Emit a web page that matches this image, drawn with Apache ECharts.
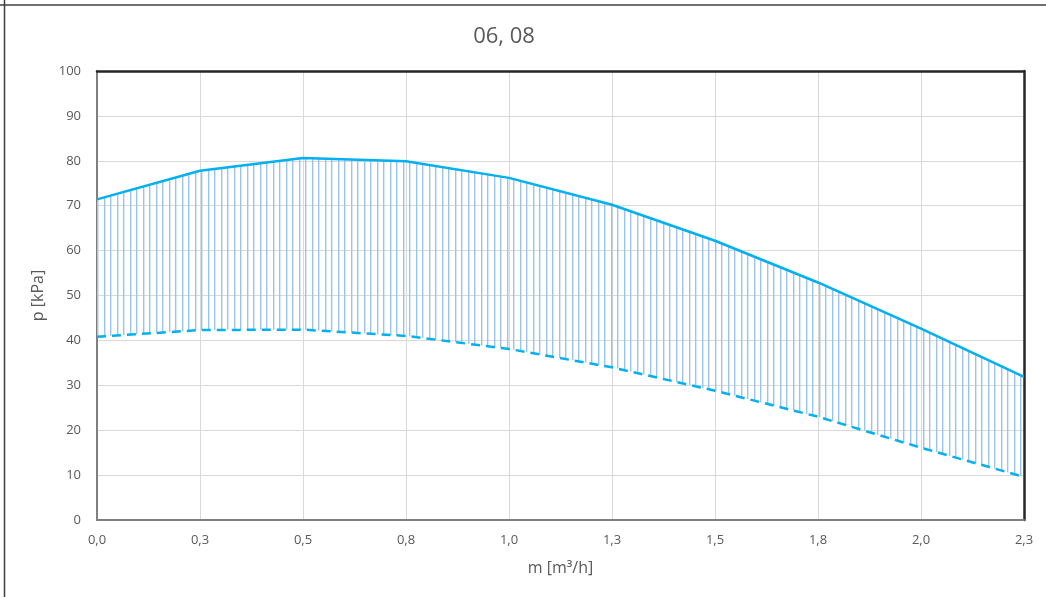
<!DOCTYPE html>
<html>
<head>
<meta charset="utf-8">
<script src="https://cdn.jsdelivr.net/npm/echarts@6/dist/echarts.min.js"></script>
<style>
html,body{margin:0;padding:0;background:#fff;}
#c{width:1046px;height:597px;}
</style>
</head>
<body>
<div id="c"></div>
<script>
var titleText = '06, 08';
var categories = ['0,0','0,3','0,5','0,8','1,0','1,3','1,5','1,8','2,0','2,3'];
var upperValues = [71.4, 77.8, 80.6, 79.9, 76.2, 70.2, 62.2, 52.9, 42.6, 31.9];
var lowerValues = [40.8, 42.3, 42.4, 41.0, 38.1, 34.0, 28.8, 23.0, 16.1, 9.6];
var yTicks = {min: 0, max: 100, interval: 10};
var xName = 'm [m\u00B3/h]';
var yName = 'p [kPa]';

var diffValues = upperValues.map(function (u, i) { return +(u - lowerValues[i]).toFixed(3); });

var pc = document.createElement('canvas');
pc.width = 13; pc.height = 8;
var pctx = pc.getContext('2d');
pctx.fillStyle = '#9DC3E6';
pctx.fillRect(0, 0, 1.4, 8);
pctx.fillRect(6, 0, 1.4, 8);

var FONT = '"Open Sans", "Noto Sans", sans-serif';
var chart = echarts.init(document.getElementById('c'), null, {renderer: 'canvas'});
chart.setOption({
  animation: false,
  backgroundColor: '#fff',
  title: {
    text: titleText, left: 499, top: 21, textAlign: 'center',
    textStyle: {fontFamily: FONT, fontSize: 22, fontWeight: 'normal', color: '#595959'}
  },
  grid: {left: 97, right: 22, top: 71, bottom: 77, show: false},
  xAxis: [{
    type: 'category', data: categories, boundaryGap: false,
    name: xName, nameLocation: 'middle', nameGap: 40,
    nameTextStyle: {fontFamily: FONT, fontSize: 16, color: '#595959'},
    axisLine: {show: true, lineStyle: {color: '#7F7F7F', width: 2}},
    axisTick: {show: false},
    axisLabel: {fontFamily: FONT, fontSize: 13, color: '#595959', margin: 14},
    splitLine: {show: true, lineStyle: {color: '#D9D9D9', width: 1}}
  }, {
    type: 'category', data: categories, boundaryGap: false, position: 'top',
    axisLine: {show: true, onZero: false, lineStyle: {color: '#262626', width: 2.5}},
    axisTick: {show: false}, axisLabel: {show: false}, splitLine: {show: false}
  }],
  yAxis: [{
    type: 'value', min: yTicks.min, max: yTicks.max, interval: yTicks.interval,
    name: yName, nameLocation: 'middle', nameGap: 51,
    nameTextStyle: {fontFamily: FONT, fontSize: 16, color: '#595959'},
    axisLine: {show: true, lineStyle: {color: '#7F7F7F', width: 2}},
    axisTick: {show: false},
    axisLabel: {fontFamily: FONT, fontSize: 13, color: '#595959', margin: 16},
    splitLine: {show: true, lineStyle: {color: '#D9D9D9', width: 1}}
  }, {
    type: 'value', min: yTicks.min, max: yTicks.max, interval: yTicks.interval, position: 'right',
    axisLine: {show: true, onZero: false, lineStyle: {color: '#262626', width: 2.5}},
    axisTick: {show: false}, axisLabel: {show: false}, splitLine: {show: false}
  }],
  series: [
    {
      name: 'lower', type: 'line', data: lowerValues, stack: 'band',
      symbol: 'none', z: 4,
      lineStyle: {color: '#00B0F0', width: 2.5, type: [9, 6]}
    },
    {
      name: 'upper', type: 'line', data: diffValues, stack: 'band',
      symbol: 'none', z: 3,
      lineStyle: {color: '#00B0F0', width: 2.5},
      areaStyle: {color: {image: pc, repeat: 'repeat'}, opacity: 1}
    }
  ],
  graphic: [
    {type: 'line', shape: {x1: 4.5, y1: 0, x2: 4.5, y2: 597}, style: {stroke: '#404040', lineWidth: 1.5}, silent: true},
    {type: 'line', shape: {x1: 0, y1: 5, x2: 1046, y2: 5}, style: {stroke: '#404040', lineWidth: 1.5}, silent: true}
  ]
});
</script>
</body>
</html>
